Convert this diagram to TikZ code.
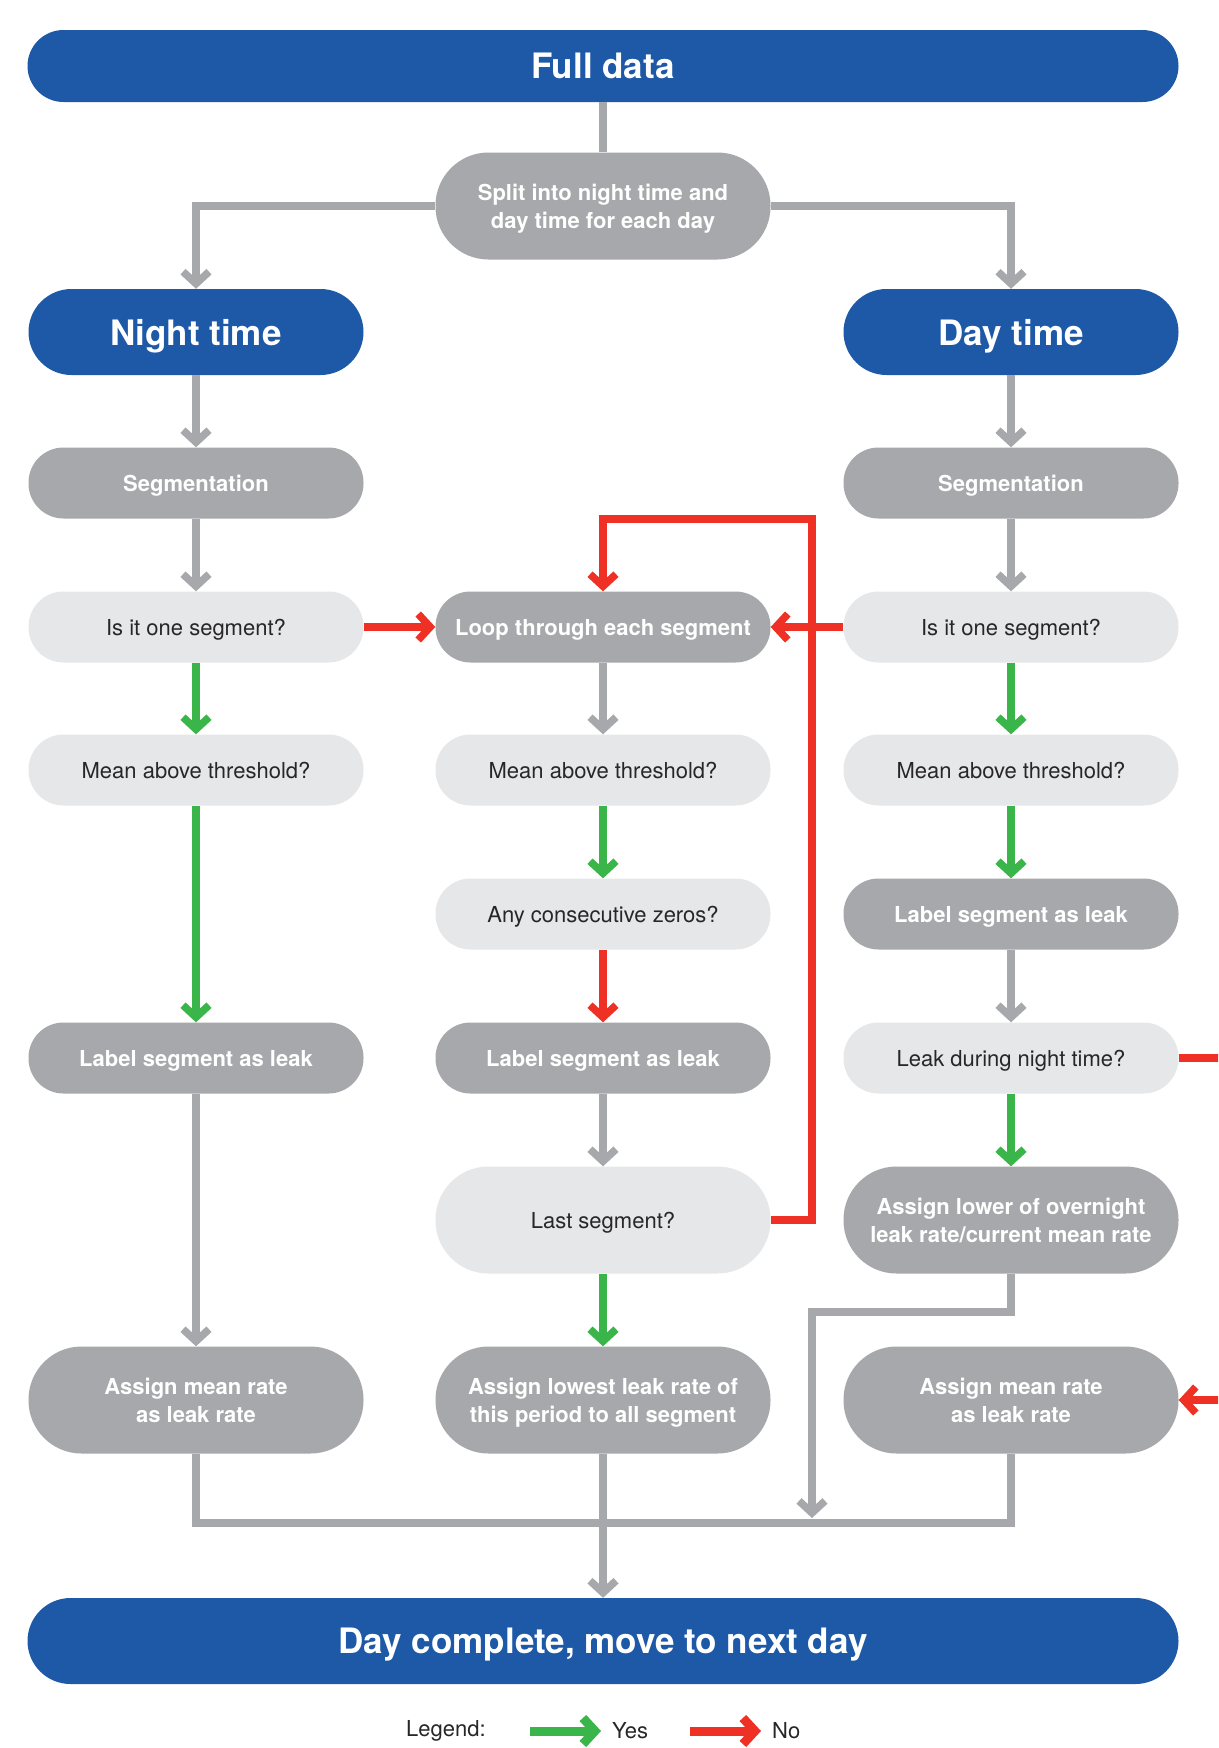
\documentclass[tikz,border=0pt]{standalone}
\usepackage{fontspec}
\setmainfont{TeX Gyre Heros}
\usetikzlibrary{arrows.meta}
\definecolor{bluebox}{RGB}{30,89,167}
\definecolor{darkbox}{RGB}{167,168,171}
\definecolor{lightbox}{RGB}{230,231,232}
\definecolor{yescol}{RGB}{57,181,74}
\definecolor{nocol}{RGB}{238,49,36}
\definecolor{txt}{RGB}{40,38,38}
\begin{document}
\begin{tikzpicture}[x=1pt,y=-1pt,>={Straight Barb[length=12pt,width=26pt]},
    box/.style={rounded corners=35pt,minimum width=335pt,minimum height=71pt,inner sep=0pt,align=center,text depth=0pt},
    big/.style={box,fill=bluebox,text=white,minimum height=86pt,rounded corners=43pt,font=\fontsize{35}{40}\selectfont\bfseries},
    grey/.style={box,fill=darkbox,text=white,font=\fontsize{22}{28}\selectfont\bfseries},
    pale/.style={box,fill=lightbox,text=txt,font=\fontsize{22}{28}\selectfont},
    tall/.style={minimum height=107pt,rounded corners=53pt},
    wide/.style={minimum width=1151pt},
    conn/.style={draw=darkbox,line width=7.5pt},
    flow/.style={conn,->},
    yesline/.style={draw=yescol,line width=7.5pt,->},
    noline/.style={draw=nocol,line width=7.5pt,->},
    legtext/.style={anchor=west,inner sep=0pt,text=txt,font=\fontsize{22}{26}\selectfont}]
    \useasboundingbox (0,0) rectangle (1218,1748);
    \clip (0,0) rectangle (1218,1748);
    % top
    \node[big,wide,minimum height=72pt,rounded corners=36pt] (full) at (603,66) {Full data};
    \node[grey,tall] (split) at (603,206) {Split into night time and\\day time for each day};
    \node[big] (night) at (196,332) {Night time};
    \node[big] (day) at (1011,332) {Day time};
    % left column
    \node[grey] (segL) at (196,483) {Segmentation};
    \node[pale] (oneL) at (196,627) {Is it one segment?};
    \node[pale] (meanL) at (196,770) {Mean above threshold?};
    \node[grey] (labelL) at (196,1058) {Label segment as leak};
    \node[grey,tall] (assignL) at (196,1400) {Assign mean rate\\as leak rate};
    % middle column
    \node[grey] (loop) at (603,627) {Loop through each segment};
    \node[pale] (meanM) at (603,770) {Mean above threshold?};
    \node[pale] (zeros) at (603,914) {Any consecutive zeros?};
    \node[grey] (labelM) at (603,1058) {Label segment as leak};
    \node[pale,tall] (last) at (603,1220) {Last segment?};
    \node[grey,tall] (lowest) at (603,1400) {Assign lowest leak rate of\\this period to all segment};
    % right column
    \node[grey] (segR) at (1011,483) {Segmentation};
    \node[pale] (oneR) at (1011,627) {Is it one segment?};
    \node[pale] (meanR) at (1011,770) {Mean above threshold?};
    \node[grey] (labelR) at (1011,914) {Label segment as leak};
    \node[pale] (leak) at (1011,1058) {Leak during night time?};
    \node[grey,tall] (lower) at (1011,1220) {Assign lower of overnight\\leak rate/current mean rate};
    \node[grey,tall] (assignR) at (1011,1400) {Assign mean rate\\as leak rate};
    \node[big,wide] (done) at (603,1641) {Day complete, move to next day};
    \coordinate (turn) at (812,519);
    \coordinate (bend) at (812,1312);
    \coordinate (drop) at (812,1518);
    \coordinate (mergeR) at (1011,1523);
    % connectors
    \draw[conn] (full.south)--(split.north);
    \draw[flow] (split.west) -| (night.north);
    \draw[flow] (split.east) -| (day.north);
    \draw[flow] (night)--(segL);
    \draw[flow] (segL)--(oneL);
    \draw[yesline] (oneL)--(meanL);
    \draw[yesline] (meanL)--(labelL);
    \draw[flow] (labelL)--(assignL);
    \draw[noline] (oneL)--(loop);
    \draw[flow] (loop)--(meanM);
    \draw[yesline] (meanM)--(zeros);
    \draw[noline] (zeros)--(labelM);
    \draw[flow] (labelM)--(last);
    \draw[yesline] (last)--(lowest);
    \draw[noline] (last.east) -| (turn) -| (loop.north);
    \draw[flow] (day)--(segR);
    \draw[flow] (segR)--(oneR);
    \draw[noline] (oneR)--(loop);
    \draw[yesline] (oneR)--(meanR);
    \draw[yesline] (meanR)--(labelR);
    \draw[flow] (labelR)--(leak);
    \draw[yesline] (leak)--(lower);
    \draw[noline] (leak.east) -- ++(80,0) |- (assignR.east);
    \draw[flow] (lower.south) |- (bend) -- (drop);
    \draw[conn] (assignL.south) |- (mergeR) -- (assignR.south);
    \draw[flow] (lowest)--(done);
    % legend
    \node[legtext] (legend) at (406,1731) {Legend:};
    \node[legtext] (yes) at (612,1731) {Yes};
    \node[legtext] (no) at (772,1731) {No};
    \coordinate (yesA) at (530,1731);
    \coordinate (noA) at (690,1731);
    \draw[yesline,line width=9pt,shorten >=11pt] (yesA)--(yes.west);
    \draw[noline,line width=9pt,shorten >=11pt] (noA)--(no.west);
\end{tikzpicture}
\end{document}
